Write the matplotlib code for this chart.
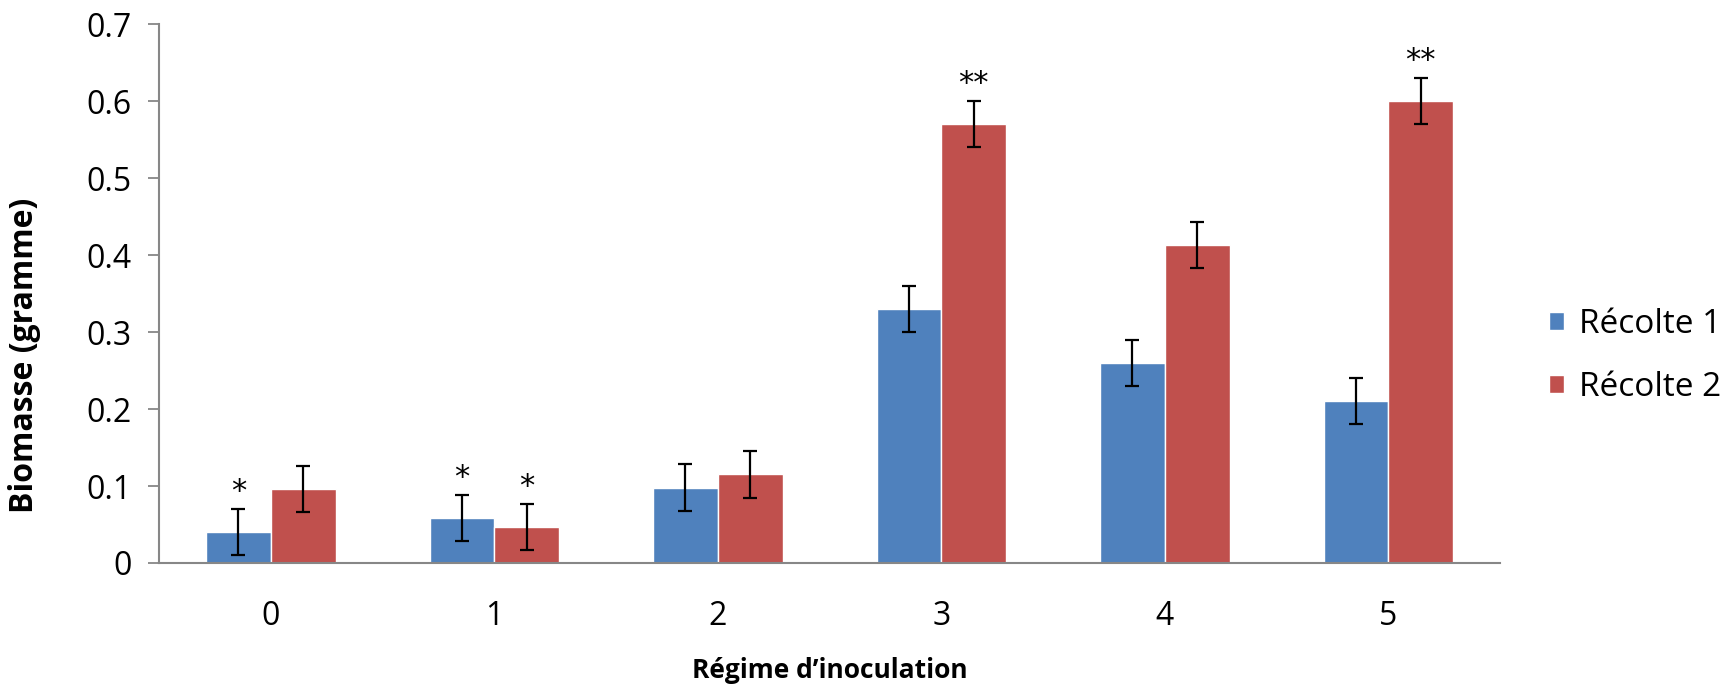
import numpy as np
import matplotlib.pyplot as plt

# données
regimes = ['0', '1', '2', '3', '4', '5']
recolte1 = [0.04, 0.058, 0.098, 0.33, 0.26, 0.21]
recolte2 = [0.096, 0.047, 0.115, 0.57, 0.413, 0.60]
err1 = [0.03, 0.03, 0.03, 0.03, 0.03, 0.03]
err2 = [0.03, 0.03, 0.03, 0.03, 0.03, 0.03]
etoiles1 = ['*', '*', '', '', '', '']
etoiles2 = ['', '*', '', '**', '', '**']

plt.rcParams['font.family'] = ['Open Sans', 'DejaVu Sans']

fig = plt.figure(figsize=(17.35, 6.88), dpi=100)
ax = fig.add_axes([0.0917, 0.1817, 0.7729, 0.7833])

x = np.arange(len(regimes))
w = 0.29
ekw = dict(ecolor='black', capsize=4.7, elinewidth=1.6, capthick=1.6)
ax.bar(x - w / 2, recolte1, w, color='#4F81BD', edgecolor='white', linewidth=1,
       yerr=err1, error_kw=ekw, label='Récolte 1')
ax.bar(x + w / 2, recolte2, w, color='#C0504D', edgecolor='white', linewidth=1,
       yerr=err2, error_kw=ekw, label='Récolte 2')

for i in range(len(regimes)):
    if etoiles1[i]:
        ax.text(x[i] - w / 2, recolte1[i] + err1[i] + 0.004, etoiles1[i],
                ha='center', va='bottom', fontsize=22, family='DejaVu Sans')
    if etoiles2[i]:
        ax.text(x[i] + w / 2, recolte2[i] + err2[i] + 0.004, etoiles2[i],
                ha='center', va='bottom', fontsize=22, family='DejaVu Sans')

ax.set_xlim(-0.5, len(regimes) - 0.5)
ax.set_ylim(0, 0.7)
ax.set_yticks(np.arange(0, 0.71, 0.1))
ax.set_yticklabels(['0', '0.1', '0.2', '0.3', '0.4', '0.5', '0.6', '0.7'])
ax.set_xticks(x)
ax.set_xticklabels(regimes)
ax.tick_params(axis='y', labelsize=23, length=8, width=1.3, color='#878787', pad=12)
ax.tick_params(axis='x', labelsize=23, length=0, pad=27)
for s in ['top', 'right']:
    ax.spines[s].set_visible(False)
for s in ['left', 'bottom']:
    ax.spines[s].set_color('#878787')
    ax.spines[s].set_linewidth(1.5)

ax.set_ylabel('Biomasse (gramme)', fontsize=23, fontweight='bold')
ax.yaxis.set_label_coords(-0.088, 0.385)
ax.set_xlabel('Régime d\u2019inoculation', fontsize=19, fontweight='bold', labelpad=17)

ax.legend(loc='center left', bbox_to_anchor=(1.014, 0.385), frameon=False, fontsize=24,
          handlelength=0.45, handleheight=0.45, handletextpad=0.45, labelspacing=0.9)

fig.savefig('out.png', dpi=100)
